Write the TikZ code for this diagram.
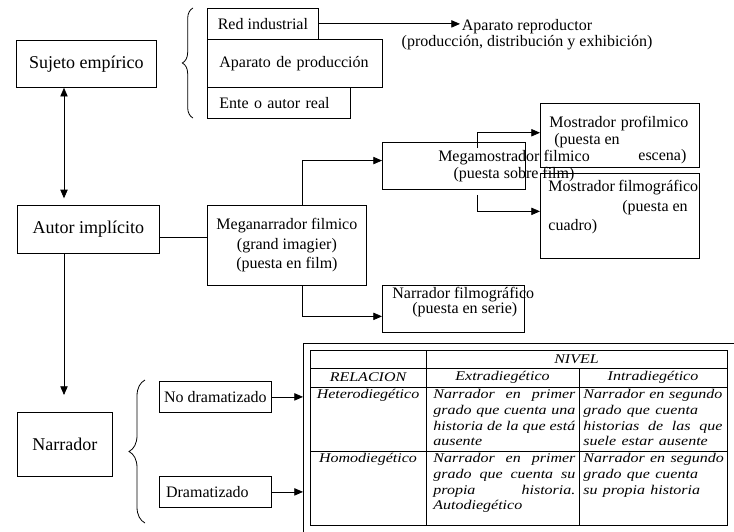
\documentclass[tikz,border=0pt]{standalone}
\usepackage{fontspec}
\usepackage{graphicx}
\setmainfont{Liberation Serif}
\newfontfamily\cursivatabla{Liberation Serif Italic}
\usetikzlibrary{arrows.meta,decorations.pathreplacing}
% lineas de la tabla: letra ensanchada, y justificada con \hfill
\newcommand{\ancha}[1]{\scalebox{1.2}[1]{#1}}
\newcommand{\ajusta}[2]{\scalebox{1.2}[1]{\hbox to #1{#2}}}

\begin{document}
\begin{tikzpicture}[x=0.75pt,y=-0.75pt,line width=0.6pt,
  font=\fontsize{12}{14.5}\selectfont,
  caja/.style={draw,rectangle,anchor=north west,inner sep=0pt,align=center},
  grande/.style={font=\fontsize{13.5}{16}\selectfont},
  texto/.style={inner sep=0pt,anchor=north west,align=left},
  celda/.style={inner sep=0pt,font=\cursivatabla\fontsize{10}{11.8}\selectfont},
  flecha/.style={-{Triangle[length=6.5pt,width=5.5pt]}},
  llave/.style={decorate,decoration={brace,amplitude=#1}}]
\useasboundingbox (0,0) rectangle (734,531);
\clip (0,0) rectangle (734,531);

% columna izquierda
\node[caja,grande,minimum width=105pt,minimum height=35.25pt] (sujeto) at (16,40) {Sujeto empírico};
\node[caja,grande,minimum width=106.5pt,minimum height=36pt] (autor) at (17,205) {Autor implícito};
\node[caja,grande,minimum width=71.25pt,minimum height=48pt] (narrador) at (17,412) {Narrador};

% sujeto empirico
\draw[llave=8pt] (193,118) -- (193,8);
\node[caja,minimum width=83.25pt,minimum height=23.25pt] (red) at (207,8) {Red industrial};
\node[caja,inner xsep=9pt,text width=113.25pt,minimum height=36pt,align=left] (aparato) at (207,39) {Aparato de producción};
\node[caja,inner xsep=9pt,text width=89.25pt,minimum height=23.25pt,align=left] (ente) at (207,87) {Ente o autor real};
\node[align=center,inner sep=0pt,font=\fontsize{12}{12}\selectfont] (reprod) at (527,35) {Aparato reproductor\\(producción, distribución y exhibición)};
\coordinate (reprodin) at (460,23.5);

% autor implicito
\node[caja,minimum width=119.25pt,minimum height=60pt] (mega) at (207,205) {Meganarrador filmico\\(grand imagier)\\(puesta en film)};
\node[caja,minimum width=107.25pt,minimum height=35.25pt] (megamost) at (382,142) {};
\node[caja,minimum width=119.25pt,minimum height=48pt] (profil) at (540,103) {};
\node[caja,minimum width=119.25pt,minimum height=63.75pt] (filmog) at (540,173) {};
\node[caja,minimum width=106.5pt,minimum height=35.25pt] (narrfilm) at (382,285) {};
\node[texto,font=\fontsize{12}{12.4}\selectfont] (profiltxt) at (549,116) {Mostrador\hspace{0.3em}profilmico\\\hspace*{3.75pt}(puesta en\\\hspace*{66.75pt}escena)};
\node[texto] (filmogtxt) at (548,180) {Mostrador\hspace{0.2em}filmográfico\\\hspace*{55.5pt}(puesta en\\cuadro)};
\node[align=center,inner sep=0pt,font=\fontsize{12}{12.75}\selectfont] (megamosttxt) at (514,166) {Megamostrador filmico\\(puesta sobre film)};
\node[texto,font=\fontsize{12}{11.25}\selectfont] (narrfilmtxt) at (392,287) {Narrador filmográfico\\\hspace*{15pt}(puesta en serie)};

% narrador
\draw[llave=12pt] (145,523) -- (145,380);
\node[caja,minimum width=84pt,minimum height=23.25pt] (nodram) at (159,381) {No dramatizado};
\node[caja,inner xsep=5pt,text width=74pt,minimum height=23.25pt,align=left] (dram) at (159,476) {Dramatizado};

% tabla
\node[caja,minimum width=324pt,minimum height=143.25pt] (marco) at (303,343) {};
\node[caja,minimum width=312.75pt,minimum height=131.25pt] (tabla) at (310,350) {};
\foreach \y in {368,387,451}
  \draw (310,\y) -- (727,\y);
\draw (426,350) -- (426,525);
\draw (579,368) -- (579,525);
\node[celda] (nivel) at (576.5,359) {\ancha{NIVEL}};
\node[celda] (rel) at (368,377.5) {\ancha{RELACION}};
\node[celda] (extra) at (502.5,377.5) {\ancha{Extradiegético}};
\node[celda] (intra) at (653,377.5) {\ancha{Intradiegético}};
\node[celda,anchor=north] (het1) at (368,389) {\ancha{Heterodiegético}};
\node[celda,anchor=north] (hom1) at (368,453) {\ancha{Homodiegético}};
\node[celda,anchor=north west,text width=106.5pt,align=left] (het2) at (433,389)
  {\ajusta{88.75pt}{Narrador\hfill en\hfill primer}\\
   \ajusta{88.75pt}{grado\hfill que\hfill cuenta\hfill una}\\
   \ajusta{88.75pt}{historia\hfill de\hfill la\hfill que\hfill está}\\
   \ancha{ausente}};
\node[celda,anchor=north west,text width=104.25pt,align=left] (het3) at (583,389)
  {\ajusta{86.9pt}{Narrador\hfill en\hfill segundo}\\
   \ancha{grado que cuenta}\\
   \ajusta{86.9pt}{historias\hfill de\hfill las\hfill que}\\
   \ancha{suele estar ausente}};
\node[celda,anchor=north west,text width=106.5pt,align=left] (hom2) at (433,453)
  {\ajusta{88.75pt}{Narrador\hfill en\hfill primer}\\
   \ajusta{88.75pt}{grado\hfill que\hfill cuenta\hfill su}\\
   \ajusta{88.75pt}{propia\hfill historia.}\\
   \ancha{Autodiegético}};
\node[celda,anchor=north west,text width=104.25pt,align=left] (hom3) at (583,453)
  {\ancha{Narrador en segundo}\\
   \ancha{grado que cuenta}\\
   \ancha{su propia historia}};

% conectores
\coordinate (eje) at (64,0);
\draw[{Triangle[length=6.5pt,width=5.5pt]}-{Triangle[length=6.5pt,width=5.5pt]},shorten >=5pt] (sujeto.south -| eje) -- (autor.north -| eje);
\draw[flecha,shorten >=12.75pt] (autor.south -| eje) -- (narrador.north -| eje);
\draw[flecha] (red.east) -- (red.east -| reprodin);
\draw ([yshift=-6pt]autor.east) -- ([yshift=-6pt]autor.east -| mega.west);
\draw[flecha] ([xshift=11.6pt]mega.north) |- ([yshift=4pt]megamost.west);
\draw[flecha] ([xshift=11.6pt]mega.south) |- ([yshift=-5.6pt]narrfilm.west);
\draw[flecha] ([xshift=17.6pt,yshift=-4.5pt]megamost.north) |- ([yshift=2pt]profil.west);
\draw[flecha] ([xshift=17.6pt,yshift=-3.75pt]megamost.south) |- ([yshift=3.4pt]filmog.west);
\draw[flecha] (nodram.east) -- (nodram.east -| marco.west);
\draw[flecha] (dram.east) -- (dram.east -| marco.west);
\end{tikzpicture}
\end{document}
